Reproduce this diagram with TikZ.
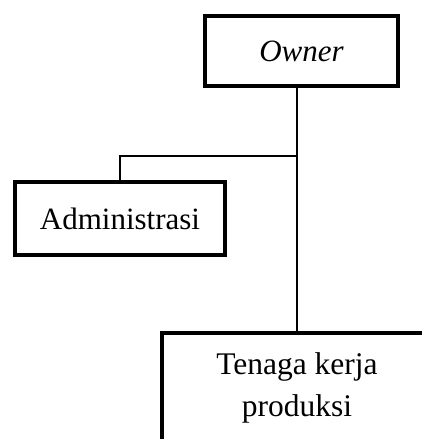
\documentclass[tikz,border=0pt]{standalone}
\usepackage{fontspec}
\setmainfont{Liberation Serif}
\tikzset{
  unitbox/.style={draw,line width=4.5pt,inner sep=0pt,
    font=\fontsize{31}{42}\selectfont},
  link/.style={line width=1.5pt}
}

\begin{document}
\begin{tikzpicture}[x=1pt,y=1pt]
	\useasboundingbox (0,0) rectangle (422,-439);
	\clip (0,0) rectangle (422,-439);
	\node[unitbox,minimum width=193pt,minimum height=70pt] (owner) at (301.5,-51) {\itshape Owner};
	\node[unitbox,minimum width=210pt,minimum height=73pt] (adm) at (120,-218.5) {Administrasi};
	\node[unitbox,minimum width=270pt,minimum height=137pt] (tk) at (297,-401.5) {};
	\node[font=\fontsize{31.5}{42}\selectfont,align=center,inner sep=0pt] (tktext) at (297,-388) {Tenaga kerja\\produksi};
	\coordinate (branch) at (297,-156);
	\draw[link] (owner.south -| branch) -- (tk.north -| branch);
	\draw[link] (adm.north) |- (branch);
\end{tikzpicture}
\end{document}
